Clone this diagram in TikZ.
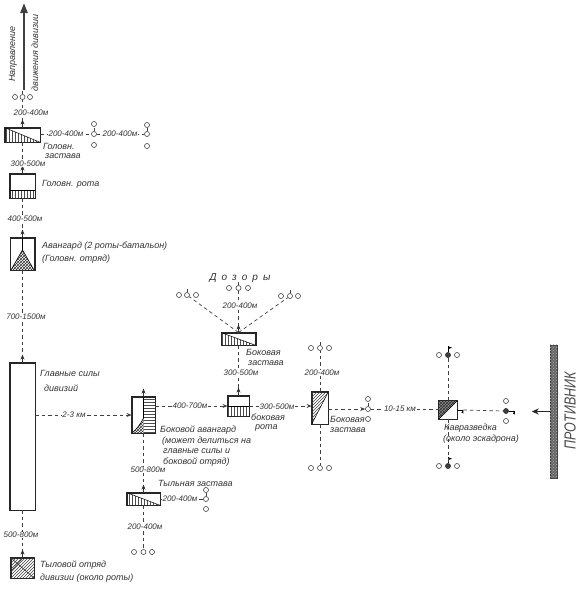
\documentclass[tikz,border=0pt]{standalone}
\usepackage{fontspec}
\setmainfont{Liberation Sans}
\usetikzlibrary{arrows.meta,patterns}
\begin{document}
\begin{tikzpicture}[x=1pt,y=-1pt,
  bx/.style={draw=black!85,line width=0.9pt,inner sep=0pt,fill=white},
  dl/.style={draw=black!75,line width=0.7pt,dash pattern=on 3.5pt off 3pt},
  upar/.style={draw=black!80,line width=0.7pt,-{Stealth[length=5pt,width=4pt]}},
  rtar/.style={-{Stealth[length=5pt,width=4pt]}},
  pc/.style={circle,draw=black!75,line width=0.6pt,inner sep=0pt,minimum size=5pt,fill=white},
  pf/.style={circle,draw=black!85,fill=black!75,line width=0.6pt,inner sep=0pt,minimum size=5pt},
  lb/.style={font=\fontsize{9}{10}\selectfont\itshape,text=black!80,inner sep=0pt,anchor=west},
  ds/.style={font=\fontsize{8}{9}\selectfont\itshape,text=black!80,inner sep=0.6pt,fill=white},
  hatchv/.style={pattern=vertical lines,pattern color=black!70},
  hatchh/.style={pattern=horizontal lines,pattern color=black!70},
  hatchd/.style={pattern=north east lines,pattern color=black!75},
  hatchx/.style={pattern=crosshatch,pattern color=black!80},
]
\useasboundingbox (0,0) rectangle (580,592);
\fill[white] (0,0) rectangle (580,592);

% ---------- boxes ----------
\node[bx,minimum width=35pt,minimum height=14pt] (hz) at (22.5,135) {};
\node[bx,minimum width=25pt,minimum height=24pt] (hr) at (22.5,186) {};
\node[bx,minimum width=24pt,minimum height=32pt] (av) at (22.5,254) {};
\node[bx,minimum width=25pt,minimum height=147pt] (gs) at (22.5,436.5) {};
\node[bx,minimum width=23pt,minimum height=20pt] (to) at (22.5,568) {};
\node[bx,minimum width=23pt,minimum height=36pt] (ba) at (143.5,415) {};
\node[bx,minimum width=33pt,minimum height=12pt] (tz) at (143.5,499) {};
\node[bx,minimum width=21pt,minimum height=20pt] (br) at (238.5,406) {};
\node[bx,minimum width=34pt,minimum height=12pt] (bz1) at (238.5,339) {};
\node[bx,minimum width=16pt,minimum height=32pt] (bz2) at (320,408) {};
\node[bx,minimum width=18pt,minimum height=18pt] (kr) at (448,410) {};

% ---------- box interiors ----------
% head outpost
\fill[hatchv] (hz.north west) -- (hz.south east) -- (hz.south west) -- cycle;
\draw[line width=0.5pt] (hz.north west) -- (hz.south east);
% head company
\fill[hatchv] (10,190) rectangle (hr.south east);
\draw[line width=0.6pt] (10,190) -- (35,190);
% vanguard
\fill[hatchx] (22.5,250) -- (11,270) -- (34,270) -- cycle;
\draw[line width=0.6pt] (av.north) -- (22.5,250) -- (11,270);
\draw[line width=0.6pt] (22.5,250) -- (34,270);
% rear detachment
\fill[hatchd] (to.north west) rectangle (to.south east);
\draw[line width=0.6pt,black!80] (to.north west) -- (to.south east);
\draw[line width=0.6pt,black!80] (12,570) -- (22,559);
% flank vanguard
\fill[hatchh] (143.5,397) rectangle (ba.south east);
\fill[hatchx] (143.5,418) .. controls (140,425) and (136,430) .. (132,433) -- (143.5,433) -- cycle;
\draw[line width=0.6pt] (ba.north) -- (143.5,418) .. controls (140,425) and (136,430) .. (132,433);
% rear outpost
\fill[hatchv] (tz.north west) -- (tz.south east) -- (tz.south west) -- cycle;
\draw[line width=0.5pt] (tz.north west) -- (tz.south east);
% flank company
\fill[hatchv] (228,406) rectangle (br.south east);
\draw[line width=0.6pt] (228,406) -- (249,406);
% flank outpost (upper)
\fill[hatchv] (bz1.north west) -- (bz1.south east) -- (bz1.south west) -- cycle;
\draw[line width=0.5pt] (bz1.north west) -- (bz1.south east);
% flank outpost (right)
\fill[hatchd] (bz2.north west) -- (bz2.north east) -- (bz2.south west) -- cycle;
\draw[line width=0.5pt] (bz2.south west) -- (bz2.north east);
% cavalry reconnaissance
\fill[black!45] (kr.north west) -- (kr.north east) -- (kr.south west) -- cycle;
\fill[hatchx] (kr.north west) -- (kr.north east) -- (kr.south west) -- cycle;
\draw[line width=0.6pt] (kr.south west) -- (kr.north east);
% redraw borders
\foreach \n in {hz,hr,av,gs,to,ba,tz,br,bz1,bz2,kr}
  \draw[draw=black!85,line width=0.9pt] (\n.north west) rectangle (\n.south east);

% ---------- patrols ----------
\node[pc] (pa1) at (15,97) {};  \node[pc] (pa2) at (22.5,97) {};  \node[pc] (pa3) at (30,97) {};
\node[pc] (pb1) at (94,124) {}; \node[pc] (pb2) at (94,134) {};   \node[pc] (pb3) at (94,145) {};
\node[pc] (pc1) at (147,125) {};\node[pc] (pc2) at (147,134) {};  \node[pc] (pc3) at (147,146) {};
\node[pc] (dl1) at (179,295) {};\node[pc] (dl2) at (187,295) {};  \node[pc] (dl3) at (196,295) {};
\node[pc] (dc1) at (229,288) {};\node[pc] (dc2) at (238.5,288) {};\node[pc] (dc3) at (248,288) {};
\node[pc] (dr1) at (281,296) {};\node[pc] (dr2) at (290,296) {};  \node[pc] (dr3) at (298,296) {};
\node[pc] (pd1) at (311,348) {};\node[pc] (pd2) at (320,348) {};  \node[pc] (pd3) at (329,348) {};
\node[pc] (pe1) at (311,468) {};\node[pc] (pe2) at (320,468) {};  \node[pc] (pe3) at (329,468) {};
\node[pc] (pr1) at (368,399) {};\node[pc] (pr2) at (368,409) {};  \node[pc] (pr3) at (368,419) {};
\node[pc] (pt1) at (206,490) {};\node[pc] (pt2) at (206,499) {};  \node[pc] (pt3) at (206,509) {};
\node[pc] (pu1) at (134,552) {};\node[pc] (pu2) at (143.5,552) {};\node[pc] (pu3) at (152,552) {};
\node[pc] (kt1) at (439,355) {};\node[pf] (kt2) at (448,355) {};  \node[pc] (kt3) at (457,355) {};
\node[pc] (kb1) at (439,466) {};\node[pf] (kb2) at (448,466) {};  \node[pc] (kb3) at (457,466) {};
\node[pc] (kq1) at (506,401) {};\node[pf] (kq2) at (506,411) {};  \node[pc] (kq3) at (506,421) {};

% stems on middle patrol men
\foreach \n in {pa2,pb2,pc2,dl2,dc2,dr2,pd2,pr2,pt2}
  \draw[line width=0.6pt,black!75] (\n.north) -- ++(0,-3);
% flags of cavalry patrols
\foreach \n in {kt2,kb2}{
  \draw[line width=0.6pt] (\n.north) -- ++(0,-6);
  \fill ([yshift=6pt]\n.north) -- ++(4,1.5) -- ++(-4,1.5) -- cycle;
}
\draw[line width=0.6pt] (kq2.east) -- ++(6,0);
\fill ([xshift=6pt]kq2.east) -- ++(0,3.5) -- ++(-2,-1) -- cycle;
\draw[line width=0.6pt] (kr.east) -- ++(6,0);
\fill ([xshift=6pt]kr.east) -- ++(0,3.5) -- ++(-2,-1) -- cycle;

% ---------- connectors ----------
\draw[dl] (hz.north) -- (pa2.south);
\draw[dl] (hz.south) -- (hr.north);
\draw[dl] (hr.south) -- (av.north);
\draw[dl] (av.south) -- (gs.north);
\draw[dl] (gs.south) -- (to.north);
\draw[dl] (hz.east |- pb2) -- (pb2.west);
\draw[dl] (pb2.east) -- (pc2.west);
\draw[dl,rtar] (gs.east |- ba.west) -- (ba.west);
\draw[dl] (ba.south) -- (tz.north);
\draw[dl] (tz.south) -- (pu2.north);
\draw[dl] (tz.east) -- (pt2.west);
\draw[dl,rtar] (ba.east |- br.west) -- (br.west);
\draw[dl] (bz1.south) -- (br.north);
\draw[dl] (bz1.north) -- (dl2);
\draw[dl] (bz1.north) -- (dc2.south);
\draw[dl] (bz1.north) -- (dr2);
\draw[dl,rtar] (br.east) -- (bz2.west |- br.east);
\draw[dl] (bz2.north) -- (pd2.south);
\draw[dl] (bz2.south) -- (pe2.north);
\draw[dl,rtar] (bz2.east |- pr2) -- (pr2.west);
\draw[dl] (pr2.east) -- (kr.west |- pr2);
\draw[dl] (kr.north) -- (kt2.south);
\draw[dl] (kr.south) -- (kb2.north);
\draw[dl] ([xshift=6pt]kr.east) -- (kq2.west);

% movement markers on top of units
\foreach \n in {hz,hr,av,gs,to,ba,tz,br,bz1}
  \draw[upar] (\n.north) -- ++(0,-8);

% ---------- direction arrow ----------
\coordinate (arS) at (24,90);
\coordinate (arE) at (24,3);
\draw[black!75,line width=2.4pt,-{Triangle[length=10pt,width=7pt]}] (arS) -- (arE);
\node[lb,anchor=center,rotate=90] at (13,54) {Направление};
\node[lb,anchor=center,rotate=90] at (35,53) {движения дивизии};

% ---------- enemy ----------
\node[fill=black!60,draw=black!75,line width=0.5pt,minimum width=7pt,minimum height=133pt,inner sep=0pt] (enemy) at (553.5,411.5) {};
\fill[pattern=crosshatch dots,pattern color=white!70!black] (enemy.north west) rectangle (enemy.south east);
\draw[line width=0.9pt,black!85,-{Stealth[length=7pt,width=6pt]}] (enemy.west) -- ++(-18,0);
\node[rotate=90,text=black!70] at (570,411) {\scalebox{0.78}[1]{\fontsize{16}{16}\selectfont\itshape ПРОТИВНИК}};

% ---------- distance labels ----------
\node[ds] at (31,113) {200-400м};
\node[ds] at (66,134) {200-400м};
\node[ds] at (120,134) {200-400м};
\node[ds] at (28,164) {300-500м};
\node[ds] at (25,219) {400-500м};
\node[ds] at (26,317) {700-1500м};
\node[ds] at (74,415) {2-3 км};
\node[ds] at (21,535) {500-800м};
\node[ds] at (190,406) {400-700м};
\node[ds] at (148,470) {500-800м};
\node[ds] at (180,499) {200-400м};
\node[ds] at (145,527) {200-400м};
\node[ds] at (241,373) {300-500м};
\node[ds] at (240,306) {200-400м};
\node[ds] at (322,373) {200-400м};
\node[ds] at (277,407) {300-500м};
\node[ds] at (400,409) {10-15 км};

% ---------- text labels ----------
\node[lb] at (43,146) {Головн.};
\node[lb] at (45,156) {застава};
\node[lb] at (42,184) {Головн. рота};
\node[lb] at (42,246) {Авангард (2 роты-батальон)};
\node[lb] at (42,259) {(Головн. отряд)};
\node[lb] at (40,373) {Главные силы};
\node[lb] at (44,388) {дивизий};
\node[lb] at (40,565) {Тыловой отряд};
\node[lb] at (40,578) {дивизии (около роты)};
\node[lb] at (160,430) {Боковой авангард};
\node[lb] at (162,441) {(может делиться на};
\node[lb] at (163,451) {главные силы и};
\node[lb] at (163,462) {боковой отряд)};
\node[lb] at (158,483) {Тыльная застава};
\node[lb] at (251,417) {боковая};
\node[lb] at (255,428) {рота};
\node[lb] at (246,352) {Боковая};
\node[lb] at (248,363) {застава};
\node[lb] at (330,419) {Боковая};
\node[lb] at (330,430) {застава};
\node[lb] at (444,428) {Кавразведка};
\node[lb] at (443,439) {(около эскадрона)};
\node[font=\fontsize{10}{10}\selectfont\itshape,text=black!80] at (240,278)
  {Д\hspace{5pt}о\hspace{5pt}з\hspace{5pt}о\hspace{5pt}р\hspace{5pt}ы};
\end{tikzpicture}
\end{document}
